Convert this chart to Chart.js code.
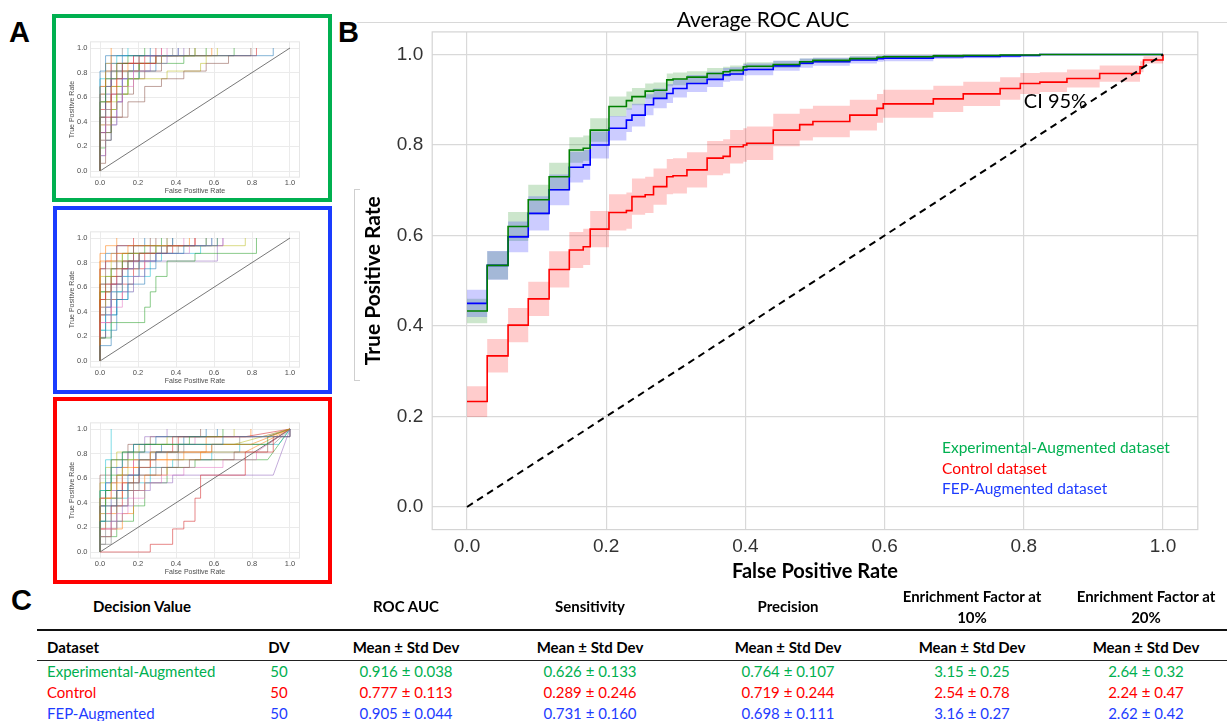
<!DOCTYPE html>
<html>
<head>
<meta charset="utf-8">
<script src="https://cdn.jsdelivr.net/npm/chart.js@4.4.1/dist/chart.umd.min.js"></script>
<style>
html,body{margin:0;padding:0;background:#fff;}
body{width:1227px;height:721px;position:relative;overflow:hidden;font-family:Lato,'Liberation Sans',sans-serif;color:#000;}
canvas{position:absolute;}
.box{position:absolute;box-sizing:border-box;border:4px solid;}
.lbl{position:absolute;font-family:'Liberation Sans',Arial,sans-serif;font-weight:bold;font-size:29px;line-height:1;}
.t{position:absolute;white-space:nowrap;transform:translate(-50%,-50%);font-size:15px;line-height:1;}
.tl{position:absolute;white-space:nowrap;transform:translateY(-50%);font-size:15px;line-height:1;}
.b{font-weight:bold;}
.ln{position:absolute;}
</style>
</head>
<body>
<div class="lbl" style="left:9px;top:18px">A</div>
<div class="lbl" style="left:338px;top:18px">B</div>
<div class="lbl" style="left:11px;top:586px">C</div>

<div class="ln" style="left:357px;top:22px;width:870px;height:1px;background:#d8d8d8"></div>
<div class="ln" style="left:354px;top:189px;width:1px;height:191px;background:#cfcfcf"></div>
<div class="ln" style="left:354px;top:189px;width:6px;height:1px;background:#cfcfcf"></div>
<div class="ln" style="left:354px;top:380px;width:6px;height:1px;background:#cfcfcf"></div>

<div class="box" style="left:52px;top:14px;width:280px;height:188px;border-color:#00b050"></div>
<div class="box" style="left:53px;top:206px;width:279px;height:188px;border-color:#1a3cff"></div>
<div class="box" style="left:53px;top:397px;width:279px;height:187px;border-color:#ff0000"></div>
<canvas id="miniExp" width="270" height="178" style="left:57px;top:19px"></canvas>
<canvas id="miniFep" width="270" height="178" style="left:57px;top:209px"></canvas>
<canvas id="miniCtl" width="270" height="178" style="left:57px;top:400px"></canvas>
<canvas id="mainB" width="887" height="600" style="left:340px;top:0px"></canvas>
<div id="table"></div>

<script>
// ================= DATA =================
// Panel B: mean ROC curves (step values start at each fpr grid point)
const fprGrid = [0,0.029,0.059,0.088,0.118,0.147,0.167,0.177,0.204,0.229,0.237,0.256,0.268,0.287,0.296,0.316,0.345,0.368,0.378,0.397,0.402,0.44,0.478,0.497,0.55,0.589,0.598,0.67,0.713,0.766,0.795,0.823,0.862,0.909,0.967,0.972,1.0];
const tprExpMean = [0.433,0.534,0.620,0.679,0.730,0.789,0.793,0.833,0.885,0.898,0.907,0.919,0.921,0.944,0.946,0.950,0.958,0.962,0.965,0.973,0.974,0.978,0.984,0.987,0.991,0.994,0.995,0.997,0.998,0.999,0.999,1.0,1.0,1.0,1.0,1.0,1.0];
const tprExpCI   = [0.027,0.031,0.032,0.033,0.031,0.028,0.028,0.026,0.022,0.020,0.019,0.017,0.017,0.014,0.014,0.013,0.012,0.011,0.011,0.009,0.009,0.008,0.007,0.006,0.005,0.004,0.004,0.003,0.002,0.002,0.001,0.001,0,0,0,0,0];
const tprFepMean = [0.450,0.534,0.597,0.649,0.701,0.751,0.756,0.800,0.837,0.855,0.866,0.889,0.903,0.914,0.925,0.936,0.945,0.955,0.957,0.966,0.967,0.975,0.981,0.984,0.988,0.991,0.992,0.995,0.996,0.997,0.998,1.0,1.0,1.0,1.0,1.0,1.0];
const tprFepCI   = [0.030,0.032,0.034,0.038,0.034,0.034,0.033,0.030,0.027,0.026,0.025,0.023,0.022,0.021,0.020,0.019,0.017,0.015,0.015,0.013,0.013,0.011,0.010,0.009,0.008,0.007,0.007,0.005,0.004,0.004,0.003,0.001,0,0,0,0,0];
const tprCtlMean = [0.233,0.334,0.402,0.460,0.525,0.568,0.575,0.614,0.651,0.655,0.686,0.690,0.708,0.730,0.732,0.745,0.771,0.775,0.796,0.800,0.804,0.833,0.845,0.852,0.866,0.881,0.891,0.902,0.913,0.925,0.936,0.939,0.947,0.958,0.973,0.988,1.0];
const tprCtlCI   = [0.034,0.037,0.038,0.038,0.040,0.040,0.040,0.040,0.040,0.040,0.040,0.040,0.040,0.039,0.039,0.039,0.038,0.038,0.037,0.037,0.037,0.036,0.035,0.035,0.034,0.032,0.031,0.029,0.027,0.025,0.023,0.022,0.020,0.018,0.012,0.008,0];
const tickVals = [0,0.2,0.4,0.6,0.8,1.0];
const legendLabels = ['Experimental-Augmented dataset','Control dataset','FEP-Augmented dataset'];
const ciLabel = 'CI 95%';

// Panel A: individual ROC curves, vertices as [false positives, true positives] counts
const nNeg = 34, nPos = 16;
const curvesExp = [
 [[0,13],[1,15],[31,16]],
 [[0,11],[1,14],[2,16]],
 [[0,9],[1,12],[3,14],[5,15],[8,16]],
 [[0,7],[2,10],[3,12],[4,14],[10,16]],
 [[0,5],[1,8],[2,10],[4,12],[5,13],[9,14],[12,15],[15,16]],
 [[0,5],[2,7],[5,9],[8,11],[11,12],[15,13],[19,14],[23,15],[27,16]],
 [[0,2],[1,6],[3,9],[4,11],[6,13],[8,15],[11,16]],
 [[0,10],[1,12],[2,13],[4,14],[7,15],[13,16]],
 [[0,6],[1,8],[3,10],[5,12],[12,13],[18,14],[19,16]],
 [[0,12],[1,14],[3,15],[5,16]],
 [[0,7],[1,11],[2,13],[4,15],[9,16]],
 [[0,9],[2,11],[3,13],[5,14],[10,15],[20,16]],
 [[0,3],[1,5],[2,8],[3,10],[5,12],[7,14],[10,15],[17,16]],
 [[0,8],[1,11],[2,14],[6,15],[28,16]],
 [[0,4],[1,7],[3,9],[4,12],[6,14],[9,15],[14,16]],
 [[0,1],[1,4],[2,7],[4,10],[6,12],[8,13],[11,15],[16,16]],
 [[0,6],[1,10],[2,12],[3,14],[6,15],[12,16]],
 [[0,11],[1,13],[2,15],[4,16]],
 [[0,4],[1,6],[2,9],[3,11],[5,13],[8,14],[11,15],[21,16]],
 [[0,9],[1,10],[2,12],[4,13],[6,14],[9,15],[19,16]],
 [[0,2],[1,4],[2,6],[3,9],[4,12],[7,13],[10,15],[14,16]],
 [[0,10],[1,13],[3,14],[8,15],[17,16]],
 [[0,7],[1,9],[2,11],[5,13],[7,14],[15,15],[24,16]],
 [[0,5],[1,9],[2,12],[4,13],[7,15],[11,16]]
];
const curvesFep = [
 [[0,2],[2,4],[3,8],[5,10],[8,12],[10,14],[15,15],[21,16]],
 [[0,13],[2,14],[5,15],[12,16]],
 [[0,3],[2,5],[8,7],[9,9],[10,11],[12,13],[17,14],[28,15],[28,16]],
 [[0,8],[1,10],[3,12],[5,13],[7,14],[12,15],[17,16]],
 [[0,7],[2,10],[4,12],[6,13],[20,13],[21,15],[22,16]],
 [[0,10],[1,12],[3,14],[6,15],[9,16]],
 [[0,5],[2,7],[4,9],[6,11],[8,13],[10,14],[16,15],[22,16]],
 [[0,6],[1,8],[3,10],[4,12],[6,13],[9,14],[14,15],[19,16]],
 [[0,11],[2,13],[4,14],[10,15],[26,16]],
 [[0,4],[1,7],[2,9],[4,11],[5,13],[7,14],[12,16]],
 [[0,3],[1,6],[3,9],[5,11],[7,13],[10,15],[13,16]],
 [[0,14],[1,15],[3,16]],
 [[0,9],[1,11],[2,12],[4,14],[8,15],[11,16]],
 [[0,12],[1,13],[3,15],[6,16]],
 [[0,6],[2,9],[3,11],[5,12],[7,14],[11,15],[20,16]],
 [[0,8],[1,9],[2,11],[4,13],[6,15],[10,16]],
 [[0,5],[1,7],[2,10],[4,12],[6,14],[9,15],[15,16]],
 [[0,10],[2,12],[3,13],[6,14],[9,15],[13,16]],
 [[0,7],[1,8],[2,11],[4,12],[7,14],[10,15],[21,16]],
 [[0,4],[2,6],[3,8],[5,9],[6,11],[9,13],[11,14],[18,15],[20,16]],
 [[0,12],[1,14],[3,15],[8,16]],
 [[0,6],[1,9],[2,11],[4,13],[6,14],[12,15],[16,16]],
 [[0,9],[2,10],[4,12],[5,14],[11,15],[19,16]],
 [[0,3],[1,5],[2,8],[4,10],[6,12],[8,14],[13,15],[17,16]]
];
const curvesCtl = [
 [[0,4],[1,6],[3,8],[5,10],[7,12],[10,13],[14,14],[22,15],[34,16]],
 [[0,7],[2,9],[4,11],[7,12],[12,13],[20,14],[27,14],'d',[34,16]],
 [[0,4],[1,8],[2,12],[4,13],[8,14],[30,15],'d',[34,16]],
 [[0,0],[9,1],[13,3],[15,4],[17,7],[18,10],[26,13],[31,15],[34,16]],
 [[0,2],[2,4],[4,6],[6,8],[9,9],[13,10],[31,10],'d',[34,16]],
 [[0,6],[3,8],[6,10],[11,11],[16,12],[24,13],[30,14],'d',[34,16]],
 [[0,3],[3,5],[5,7],[8,9],[11,10],[15,11],[22,12],[28,13],'d',[34,16]],
 [[0,1],[1,4],[3,6],[5,9],[7,11],[10,13],[15,14],[25,15],[34,16]],
 [[0,5],[1,7],[3,10],[5,12],[9,13],[14,14],[24,14],'d',[34,16]],
 [[0,8],[1,12],[2,16]],
 [[0,6],[1,9],[2,11],[4,13],[6,14],[10,15],[19,16]],
 [[0,2],[2,3],[4,5],[6,8],[8,10],[12,12],[18,13],[26,13],'d',[34,16]],
 [[0,8],[2,10],[4,12],[6,14],[16,15],[22,16]],
 [[0,3],[2,6],[4,9],[7,11],[9,13],[13,15],[26,15],'d',[34,16]],
 [[0,7],[1,9],[3,11],[5,13],[8,15],[12,16]],
 [[0,10],[2,12],[5,14],[9,15],[18,16]],
 [[0,5],[2,8],[4,10],[6,12],[9,14],[17,15],[29,15],'d',[34,16]],
 [[0,1],[2,3],[3,6],[5,8],[7,10],[10,11],[14,13],[20,14],[31,14],'d',[34,16]],
 [[0,9],[1,11],[3,13],[7,14],[12,15],[24,16]],
 [[0,4],[2,7],[5,9],[9,11],[13,12],[20,13],[25,14],[32,14],'d',[34,16]],
 [[0,6],[1,8],[4,10],[7,13],[11,14],[15,15],[21,16]],
 [[0,3],[1,5],[3,7],[4,9],[6,11],[9,12],[15,13],[19,15],[27,16]],
 [[0,2],[3,4],[6,6],[8,9],[12,11],[17,12],[23,12],[30,12],'d',[34,16]],
 [[0,7],[3,10],[6,12],[10,13],[14,15],[30,15],'d',[34,16]]
];

// Panel C table
const tblDatasets = ['Experimental-Augmented','Control','FEP-Augmented'];
const tblDV = [50,50,50];
const rocMean  = [0.916,0.777,0.905], rocSd  = [0.038,0.113,0.044];
const sensMean = [0.626,0.289,0.731], sensSd = [0.133,0.246,0.160];
const precMean = [0.764,0.719,0.698], precSd = [0.107,0.244,0.111];
const ef10Mean = [3.15,2.54,3.16],    ef10Sd = [0.25,0.78,0.27];
const ef20Mean = [2.64,2.24,2.62],    ef20Sd = [0.32,0.47,0.42];

// ================= STYLE =================
const cExp = '#00b050', cCtl = '#ff0000', cFep = '#1e3cff';
const tab10 = ['#1f77b4','#ff7f0e','#2ca02c','#d62728','#9467bd','#8c564b','#e377c2','#7f7f7f','#bcbd22','#17becf'];
function rgba(hex,a){const n=parseInt(hex.slice(1),16);return `rgba(${n>>16&255},${n>>8&255},${n&255},${a})`;}
Chart.defaults.font.family = 'Lato';

// ================= PANEL A =================
function toPoints(c){
  const pts=[{x:0,y:0}]; let prev={x:0,y:0}, diag=false;
  for(const v of c){
    if(v==='d'){diag=true;continue;}
    const x=v[0]/nNeg, y=v[1]/nPos;
    if(!diag) pts.push({x, y:prev.y});
    pts.push({x,y}); prev={x,y}; diag=false;
  }
  return pts;
}
const frame = (col,w)=>({id:'frame',afterDraw(chart){const a=chart.chartArea,ctx=chart.ctx;ctx.save();ctx.strokeStyle=col;ctx.lineWidth=w;ctx.strokeRect(a.left,a.top,a.right-a.left,a.bottom-a.top);ctx.restore();}});
function mini(id, curves){
  const ds = curves.map((c,i)=>({data:toPoints(c),borderColor:rgba(tab10[i%10],0.55),borderWidth:1,pointRadius:0,tension:0,fill:false}));
  ds.push({data:[{x:0,y:0},{x:1,y:1}],borderColor:'#555',borderWidth:0.8,pointRadius:0});
  const tickFont={family:'Liberation Sans',size:7.5};
  const titleFont={family:'Liberation Sans',size:7};
  new Chart(document.getElementById(id),{
    type:'line',data:{datasets:ds},
    options:{responsive:false,animation:false,devicePixelRatio:1,
      layout:{padding:{left:0,top:22.85,right:27.5,bottom:0}},
      plugins:{legend:{display:false},tooltip:{enabled:false}},
      scales:{
        x:{type:'linear',min:-0.05,max:1.05,afterBuildTicks:s=>{s.ticks=tickVals.map(v=>({value:v}));},
           ticks:{callback:v=>v.toFixed(1),font:tickFont,color:'#4d4d4d',padding:1.3,maxRotation:0,autoSkip:false},
           grid:{color:'#ebebeb',drawTicks:false},border:{display:false},
           title:{display:true,text:'False Positive Rate',font:titleFont,color:'#4d4d4d',padding:{top:0,bottom:2.1}},
           afterFit:s=>{s.height=19.85;}},
        y:{type:'linear',min:-0.05,max:1.05,afterBuildTicks:s=>{s.ticks=tickVals.map(v=>({value:v}));},
           ticks:{callback:v=>v.toFixed(1),font:tickFont,color:'#4d4d4d',padding:3,autoSkip:false},
           grid:{color:'#ebebeb',drawTicks:false},border:{display:false},
           title:{display:true,text:'True Positive Rate',font:titleFont,color:'#4d4d4d',padding:{top:10.5,bottom:0}},
           afterFit:s=>{s.width=33.5;}}
      }},
    plugins:[frame('#e6e6e6',1)]
  });
}
mini('miniExp',curvesExp);
mini('miniFep',curvesFep);
mini('miniCtl',curvesCtl);

// ================= PANEL B =================
// staircase vertices: each value holds from its grid point to the next one
const stepPts = ys => { const p=[{x:fprGrid[0],y:ys[0]}]; for(let i=1;i<fprGrid.length;i++){p.push({x:fprGrid[i],y:ys[i-1]});p.push({x:fprGrid[i],y:ys[i]});} return p; };
const lo = (m,h)=>m.map((v,i)=>v-h[i]);
const hi = (m,h)=>m.map((v,i)=>v+h[i]);
// closed band polygon: upper edge forward, lower edge backward
const band = (m,h)=>stepPts(hi(m,h)).concat(stepPts(lo(m,h)).reverse());
const bandDs = (data,order,bg)=>({data,order,fill:'shape',backgroundColor:bg,borderWidth:0,borderColor:'rgba(0,0,0,0)',pointRadius:0});
const mainDeco = {id:'mainDeco',afterDraw(chart){
  const {ctx,chartArea:a,scales:{x,y}}=chart;
  ctx.save();
  ctx.strokeStyle='#d4d4d4';ctx.lineWidth=1.2;ctx.strokeRect(a.left,a.top,a.right-a.left,a.bottom-a.top);
  ctx.fillStyle='#000';ctx.textAlign='center';ctx.textBaseline='middle';
  ctx.font='21px Lato';ctx.fillText('Average ROC AUC',423,20);
  ctx.textAlign='left';ctx.font='20px Lato';
  ctx.fillText(ciLabel,x.getPixelForValue(0.8),y.getPixelForValue(0.895));
  ctx.font='15.5px Lato';
  [cExp,cCtl,cFep].forEach((c,i)=>{ctx.fillStyle=c;ctx.fillText(legendLabels[i],602,448+20.5*i);});
  ctx.restore();
}};
new Chart(document.getElementById('mainB'),{
  type:'line',
  data:{datasets:[
    {data:[{x:0,y:0},{x:1,y:1}],order:0,borderColor:'#000',borderWidth:2,borderDash:[7,5],pointRadius:0,fill:false},
    {data:stepPts(tprExpMean),order:1,borderColor:'#008000',borderWidth:1.6,pointRadius:0,fill:false},
    {data:stepPts(tprFepMean),order:2,borderColor:'#0000ff',borderWidth:1.6,pointRadius:0,fill:false},
    {data:stepPts(tprCtlMean),order:3,borderColor:'#ff0000',borderWidth:1.6,pointRadius:0,fill:false},
    bandDs(band(tprFepMean,tprFepCI),4,'rgba(0,0,255,0.2)'),
    bandDs(band(tprCtlMean,tprCtlCI),5,'rgba(255,0,0,0.2)'),
    bandDs(band(tprExpMean,tprExpCI),6,'rgba(0,128,0,0.2)')
  ]},
  options:{responsive:false,animation:false,devicePixelRatio:1,
    layout:{padding:{left:0,top:31.9,right:29.2,bottom:0}},
    plugins:{legend:{display:false},tooltip:{enabled:false}},
    scales:{
      x:{type:'linear',min:-0.05,max:1.05,afterBuildTicks:s=>{s.ticks=tickVals.map(v=>({value:v}));},
         ticks:{callback:v=>v.toFixed(1),font:{family:'Liberation Sans',size:19},color:'#333',padding:6,maxRotation:0,autoSkip:false},
         grid:{color:'#d9d9d9',lineWidth:1.2,drawTicks:false},border:{display:false},
         title:{display:true,text:'False Positive Rate',font:{family:'Lato',size:20,weight:'bold'},color:'#000',padding:{top:0,bottom:16}},
         afterFit:s=>{s.height=70.4;}},
      y:{type:'linear',min:-0.05,max:1.05,afterBuildTicks:s=>{s.ticks=tickVals.map(v=>({value:v}));},
         ticks:{callback:v=>v.toFixed(1),font:{family:'Liberation Sans',size:19},color:'#333',padding:9,autoSkip:false},
         grid:{color:'#d9d9d9',lineWidth:1.2,drawTicks:false},border:{display:false},
         title:{display:true,text:'True Positive Rate',font:{family:'Lato',size:21,weight:'bold'},color:'#000',padding:{top:20.4,bottom:0}},
         afterFit:s=>{s.width=92.2;}}
    }},
  plugins:[mainDeco]
});

// ================= PANEL C =================
(function(){
  const T=document.getElementById('table');
  const colX=[279,406,590,788,972,1146];
  const rowY=[671,692,713];
  const rowCol=[cExp,cCtl,cFep];
  let h='';
  const c=(x,y,txt,cls,col)=>`<div class="t ${cls||''}" style="left:${x}px;top:${y}px;${col?'color:'+col:''}">${txt}</div>`;
  const l=(x,y,txt,cls,col)=>`<div class="tl ${cls||''}" style="left:${x}px;top:${y}px;${col?'color:'+col:''}">${txt}</div>`;
  h+=c(142,606,'Decision Value','b');
  h+=c(colX[1],606,'ROC AUC','b');
  h+=c(colX[2],606,'Sensitivity','b');
  h+=c(colX[3],606,'Precision','b');
  h+=c(colX[4],596,'Enrichment Factor at','b')+c(colX[4],617,'10%','b');
  h+=c(colX[5],596,'Enrichment Factor at','b')+c(colX[5],617,'20%','b');
  h+=`<div class="ln" style="left:37px;top:629px;width:1190px;height:2px;background:#111"></div>`;
  h+=l(47,647,'Dataset','b')+c(colX[0],647,'DV','b');
  for(let k=1;k<6;k++) h+=c(colX[k],647,'Mean ± Std Dev','b');
  h+=`<div class="ln" style="left:37px;top:660px;width:1190px;height:1px;background:#222"></div>`;
  const fm=(m,s,d)=>m.toFixed(d)+' ± '+s.toFixed(d);
  for(let i=0;i<3;i++){
    const y=rowY[i],col=rowCol[i];
    h+=l(47,y,tblDatasets[i],'',col)+c(colX[0],y,tblDV[i],'',col);
    h+=c(colX[1],y,fm(rocMean[i],rocSd[i],3),'',col);
    h+=c(colX[2],y,fm(sensMean[i],sensSd[i],3),'',col);
    h+=c(colX[3],y,fm(precMean[i],precSd[i],3),'',col);
    h+=c(colX[4],y,fm(ef10Mean[i],ef10Sd[i],2),'',col);
    h+=c(colX[5],y,fm(ef20Mean[i],ef20Sd[i],2),'',col);
  }
  T.innerHTML=h;
})();
</script>
</body>
</html>
